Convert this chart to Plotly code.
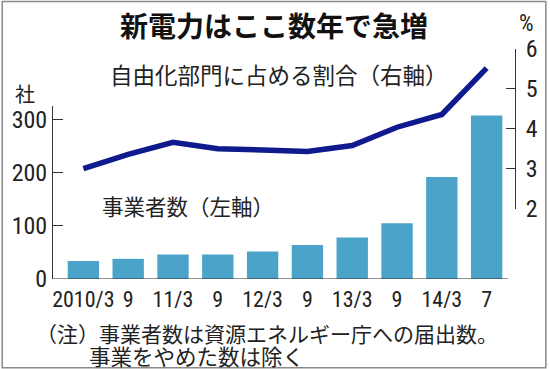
import plotly.graph_objects as go

# ---- data ----
periods = ["2010/3", "9", "11/3", "9", "12/3", "9", "13/3", "9", "14/3", "7"]
suppliers = [34, 38, 46, 46, 52, 64, 78, 105, 192, 308]          # 事業者数 (左軸, 社)
share_pct = [3.0, 3.36, 3.66, 3.5, 3.47, 3.43, 3.58, 4.04, 4.36, 5.52]  # 自由化部門に占める割合 (右軸, %)
left_ticks = [0, 100, 200, 300]
right_ticks = [2, 3, 4, 5, 6]

xpos = list(range(len(periods)))

W, H = 550, 369
L, R, T, B = 52, 34, 48.5, 90
ph = H - T - B
pw = W - L - R

JP = "Noto Sans CJK JP"
NUM = "Liberation Sans Narrow, Arial Narrow, Roboto Condensed, Liberation Sans, sans-serif"
TXT = "#222222"

def px(x):
    return (x - L) / pw

def py(y):
    return (H - B - y) / ph

fig = go.Figure()
fig.add_trace(go.Bar(x=xpos, y=suppliers, width=0.70, marker=dict(color="#4BA3C9", line=dict(width=0)),
                     xaxis="x", yaxis="y", showlegend=False))
fig.add_trace(go.Scatter(x=xpos, y=share_pct, mode="lines", line=dict(color="#101A8F", width=5.5),
                         xaxis="x", yaxis="y2", showlegend=False))

y_top = 325
ydom_top = (279 - 106) / ph
y2dom_bot = (279 - 208.5) / ph

x0 = -0.678
x1 = x0 + pw / 45.0

fig.update_layout(
    width=W, height=H,
    margin=dict(l=L, r=R, t=T, b=B, pad=0),
    paper_bgcolor="white", plot_bgcolor="rgba(0,0,0,0)",
    xaxis=dict(range=[x0, x1], tickvals=xpos, ticktext=periods, showgrid=False,
               zeroline=False, showline=False, ticks="", anchor="y",
               ticklabelstandoff=5,
               tickfont=dict(family=NUM, size=22, color=TXT)),
    yaxis=dict(domain=[0, ydom_top], range=[0, y_top], tickvals=left_ticks, showgrid=False,
               zeroline=False, showline=True, linecolor="#333333", linewidth=1,
               ticks="inside", ticklen=10, tickcolor="#333333", anchor="x",
               tickfont=dict(family=NUM, size=24, color=TXT)),
    yaxis2=dict(domain=[y2dom_bot, 1], range=[2, 6], tickvals=right_ticks, side="right",
                anchor="x", showgrid=False, zeroline=False, showline=True, linecolor="#333333",
                linewidth=1, ticks="inside", ticklen=9, tickcolor="#333333",
                ticklabelstandoff=5,
                tickfont=dict(family=NUM, size=24, color=TXT)),
    shapes=[
        dict(type="line", xref="x", yref="y", x0=x0, x1=9.48, y0=0, y1=0,
             line=dict(color="#333333", width=1)),
        dict(type="rect", xref="paper", yref="paper", x0=px(1), x1=px(547),
             y0=py(368), y1=py(1), line=dict(color="#8a8a8a", width=1.5)),
    ],
    annotations=[
        dict(text="<b>新電力はここ数年で急増</b>", xref="paper", yref="paper",
             x=px(274), y=py(24.5), xanchor="center", yanchor="middle",
             showarrow=False, font=dict(family=JP, size=28, color="#111111")),
        dict(text="%", xref="paper", yref="paper", x=px(528), y=py(23),
             xanchor="center", yanchor="middle", showarrow=False,
             font=dict(family=NUM, size=23, color=TXT)),
        dict(text="社", xref="paper", yref="paper", x=px(24), y=py(93),
             xanchor="center", yanchor="middle", showarrow=False,
             font=dict(family=JP, size=20, color=TXT)),
        dict(text="自由化部門に占める割合（右軸）", xref="paper", yref="paper",
             x=px(279), y=py(73.5), xanchor="center", yanchor="middle",
             showarrow=False, font=dict(family=JP, size=22.5, color=TXT)),
        dict(text="事業者数（左軸）", xref="paper", yref="paper",
             x=px(188), y=py(205), xanchor="center", yanchor="middle",
             showarrow=False, font=dict(family=JP, size=21.5, color=TXT)),
        dict(text="（注）事業者数は資源エネルギー庁への届出数。", xref="paper", yref="paper",
             x=px(33), y=py(333), xanchor="left", yanchor="middle",
             showarrow=False, font=dict(family=JP, size=21, color=TXT)),
        dict(text="事業をやめた数は除く", xref="paper", yref="paper",
             x=px(86), y=py(356), xanchor="left", yanchor="middle",
             showarrow=False, font=dict(family=JP, size=21.5, color=TXT)),
    ],
)

fig.write_html("out.html")
